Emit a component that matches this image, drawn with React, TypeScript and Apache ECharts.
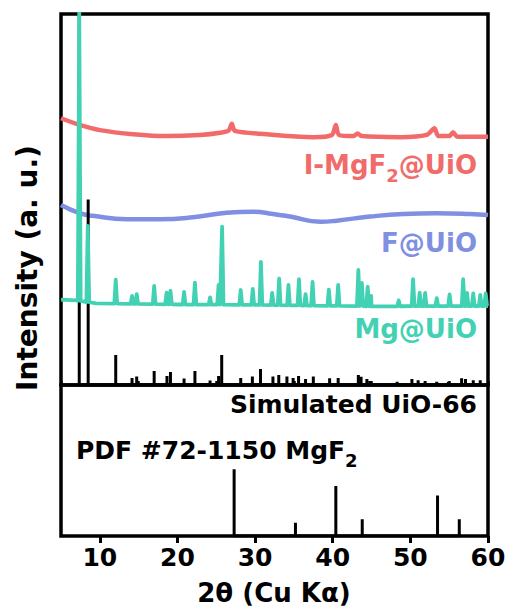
import React, { useEffect, useRef } from 'react';
import * as echarts from 'echarts';

// ---------- data (2θ in degrees, intensity in arbitrary units) ----------
const X_MIN = 5;
const X_MAX = 60;

const mgf2UioTrace: [number, number][] = [
  [5, 71.9], [7.4, 70.1], [10, 68.7], [14.3, 67.6], [18.6, 67.1], [22.9, 67.4],
  [25.5, 68.0], [26.6, 68.6], [27.0, 70.4], [27.4, 68.5], [31.5, 67.6], [35.8, 66.9],
  [37.5, 66.8], [39.9, 67.4], [40.4, 70.1], [40.8, 67.4], [42.7, 67.1], [43.2, 67.8],
  [43.7, 67.1], [48.7, 66.8], [52.1, 67.4], [53.1, 69.2], [53.6, 67.1], [55.0, 67.1],
  [55.5, 68.1], [56.0, 67.0], [57.3, 66.9], [60, 66.9],
];

// F@UiO measured pattern
const fUioTrace: [number, number][] = [
  [5, 48.5], [7.4, 46.3], [9.1, 45.6], [13.5, 44.7], [17.8, 44.7], [22, 45.2],
  [26.3, 46.4], [29.7, 46.7], [32.3, 46.1], [34.5, 45.4], [38.4, 44.0], [40.5, 44.3],
  [44.8, 45.4], [49.1, 46.1], [53.4, 46.3], [57.7, 46.1], [60, 45.8],
];

// Mg@UiO: baseline points and peak tops
const mgUioBaseline: [number, number][] = [
  [5, 23.0], [7, 22.8], [9.5, 22.0], [20, 21.7], [30, 21.6], [45, 21.2], [60, 21.3],
];
const mgUioPeaks: [number, number][] = [
  [7.35, 101], [8.45, 42.9], [12.05, 28.4], [14.15, 24.0], [14.75, 24.5], [17.0, 26.7],
  [18.6, 24.9], [19.1, 25.4], [20.85, 25.1], [22.25, 27.6], [24.2, 23.6], [25.3, 27.0],
  [25.75, 42.7], [28.15, 25.6], [29.7, 25.9], [30.75, 33.2], [32.2, 24.8], [33.1, 28.7],
  [34.3, 27.0], [35.65, 28.5], [36.5, 24.5], [37.4, 27.8], [39.5, 25.7], [40.7, 27.0],
  [43.3, 31.0], [43.75, 27.5], [44.5, 26.5], [44.95, 24.0], [48.5, 22.8], [50.35, 28.5],
  [51.2, 24.9], [51.9, 24.8], [53.4, 23.4], [55.05, 24.4], [56.8, 28.5], [57.3, 24.8],
  [58.1, 24.7], [59.0, 24.3], [59.7, 24.7],
];

// Simulated UiO-66 stick pattern
const simPositions: number[] = [
  7.35, 8.5, 12.05, 14.15, 14.75, 17.0, 18.65, 19.1, 20.85, 22.25, 24.2, 25.3, 25.7,
  28.15, 29.65, 30.7, 32.3, 33.05, 34.1, 34.9, 35.6, 36.5, 37.5, 39.6, 40.7, 43.3,
  43.65, 44.4, 44.8, 48.3, 50.2, 51.0, 51.9, 53.4, 54.9, 56.6, 57.1, 58.1, 59.0,
];
const simHeights: number[] = [
  100, 50, 8.1, 1.9, 2.3, 3.8, 2.4, 3.5, 1.75, 3.8, 1.2, 2.4, 8.1,
  1.9, 2.3, 4.3, 2.3, 2.7, 2.3, 1.9, 2.4, 1.6, 2.3, 1.8, 1.9, 2.7,
  2.2, 1.6, 1.1, 0.9, 1.6, 1.3, 1.1, 0.9, 0.9, 1.8, 1.6, 1.3, 1.3,
];

// PDF #72-1150 MgF2 reference lines
const pdfPositions: number[] = [27.3, 35.2, 40.4, 43.8, 53.5, 56.3];
const pdfHeights: number[] = [44.2, 8.8, 33.1, 11.1, 26.9, 11.1];

const xTitle = '2θ (Cu Kα)';
const yTitle = 'Intensity (a. u.)';

// ---------- colours ----------
const RED = '#F26B6B';
const BLUE = '#7F90E2';
const TEAL = '#42D2B3';
const FONT_FAMILY = '"DejaVu Sans"';

function baseAt(x: number): number {
  const b = mgUioBaseline;
  for (let i = 0; i < b.length - 1; i++) {
    if (x >= b[i][0] && x <= b[i + 1][0]) {
      const t = (x - b[i][0]) / (b[i + 1][0] - b[i][0]);
      return b[i][1] + t * (b[i + 1][1] - b[i][1]);
    }
  }
  return b[b.length - 1][1];
}

function buildMgSeries(): [number, number][] {
  const pts: [number, number][] = mgUioBaseline.map((p) => [p[0], p[1]] as [number, number]);
  const hw = 0.18;
  mgUioPeaks.forEach(([x, h]) => {
    const b = baseAt(x);
    pts.push([x - hw, b], [x, h], [x + hw, b]);
  });
  pts.sort((a, b) => a[0] - b[0]);
  return pts;
}

function buildSticks(pos: number[], h: number[]): number[][] {
  const pts: number[][] = [];
  pos.forEach((x, i) => {
    pts.push([x, 0], [x, h[i]], [x, 0]);
  });
  return pts;
}

let measureCtx: CanvasRenderingContext2D | null = null;
function textWidth(text: string, size: number): number {
  if (!measureCtx) measureCtx = document.createElement('canvas').getContext('2d');
  if (!measureCtx) return text.length * size * 0.65;
  measureCtx.font = `bold ${size}px ${FONT_FAMILY}`;
  return measureCtx.measureText(text).width;
}

function txt(text: string, x: number, y: number, size: number, color: string, align: string, extra: any = {}) {
  return {
    type: 'text',
    x,
    y,
    z: 100,
    ...extra,
    style: {
      text,
      font: `bold ${size}px ${FONT_FAMILY}`,
      fill: color,
      align,
      verticalAlign: 'middle',
      textAlign: align,
      textVerticalAlign: 'middle',
    },
  };
}

// text with a subscript part: parts [text, size, dy]
function composite(parts: [string, number, number][], anchorX: number, y: number, color: string, right: boolean) {
  const widths = parts.map(([t, s]) => textWidth(t, s));
  const total = widths.reduce((a, b) => a + b, 0);
  let x = right ? anchorX - total : anchorX;
  const els: any[] = [];
  parts.forEach(([t, s, dy], i) => {
    els.push(txt(t, x, y + dy, s, color, 'left'));
    x += widths[i];
  });
  return els;
}

export default function App() {
  const ref = useRef<HTMLDivElement>(null);

  useEffect(() => {
    if (!ref.current) return;
    const chart = echarts.init(ref.current, undefined, { renderer: 'svg' });

    const gridLeft = 61;
    const gridRight = 511 - 488;
    const option: any = {
      animation: false,
      backgroundColor: '#fff',
      grid: [
        { left: gridLeft, right: gridRight, top: 14, height: 371, show: true, borderColor: '#000', borderWidth: 3.5, backgroundColor: 'transparent' },
        { left: gridLeft, right: gridRight, top: 385, height: 151, show: true, borderColor: '#000', borderWidth: 3.5, backgroundColor: 'transparent' },
      ],
      xAxis: [
        { gridIndex: 0, type: 'value', min: X_MIN, max: X_MAX, show: false },
        {
          gridIndex: 1, type: 'value', min: X_MIN, max: X_MAX,
          axisLine: { show: false },
          axisTick: { show: true, length: 7, lineStyle: { color: '#000', width: 3 } },
          axisLabel: {
            showMinLabel: false, fontSize: 25, fontWeight: 'bold', fontFamily: 'DejaVu Sans',
            color: '#000', margin: 9,
          },
          splitLine: { show: false },
        },
        {
          gridIndex: 1, type: 'value', min: X_MIN, max: X_MAX, interval: 10,
          axisLine: { show: false },
          axisTick: { show: true, length: 4, lineStyle: { color: '#000', width: 2.5 } },
          axisLabel: { show: false },
          splitLine: { show: false },
        },
      ],
      yAxis: [
        { gridIndex: 0, type: 'value', min: 0, max: 100, show: false },
        { gridIndex: 1, type: 'value', min: 0, max: 100, show: false },
      ],
      series: [
        {
          type: 'line', name: 'I-MgF2@UiO', xAxisIndex: 0, yAxisIndex: 0,
          data: mgf2UioTrace, showSymbol: false, symbol: 'none', smooth: 0.25,
          lineStyle: { color: RED, width: 4.5 }, z: 2,
        },
        {
          type: 'line', name: 'F@UiO', xAxisIndex: 0, yAxisIndex: 0,
          data: fUioTrace, showSymbol: false, symbol: 'none', smooth: true,
          lineStyle: { color: BLUE, width: 4.5 }, z: 2,
        },
        {
          type: 'line', name: 'Simulated UiO-66', xAxisIndex: 0, yAxisIndex: 0,
          data: buildSticks(simPositions, simHeights), showSymbol: false, symbol: 'none',
          lineStyle: { color: '#000', width: 3 }, z: 3,
        },
        {
          type: 'line', name: 'Mg@UiO', xAxisIndex: 0, yAxisIndex: 0,
          data: buildMgSeries(), showSymbol: false, symbol: 'none',
          lineStyle: { color: TEAL, width: 3.8, join: 'round' }, z: 4,
        },
        {
          type: 'line', name: 'PDF #72-1150 MgF2', xAxisIndex: 2, yAxisIndex: 1,
          data: buildSticks(pdfPositions, pdfHeights), showSymbol: false, symbol: 'none',
          lineStyle: { color: '#000', width: 3 }, z: 3,
        },
      ],
      graphic: [
        ...composite([['I-MgF', 26, 0], ['2', 18, 10], ['@UiO', 26, 0]], 477, 165, RED, true),
        txt('F@UiO', 477, 243, 26, BLUE, 'right'),
        txt('Mg@UiO', 477, 329, 26, TEAL, 'right'),
        txt('Simulated UiO-66', 477, 404, 25, '#000', 'right'),
        ...composite([['PDF #72-1150 MgF', 25, 0], ['2', 18, 10]], 76, 450, '#000', false),
        txt(xTitle, 274, 593, 26, '#000', 'center'),
        txt(yTitle, 27, 268, 28, '#000', 'center', { rotation: Math.PI / 2 }),
      ],
    };

    chart.setOption(option);
    return () => chart.dispose();
  }, []);

  return (
    <div
      ref={ref}
      style={{ position: 'absolute', left: 0, top: 0, width: 511, height: 615, background: '#fff' }}
    />
  );
}
